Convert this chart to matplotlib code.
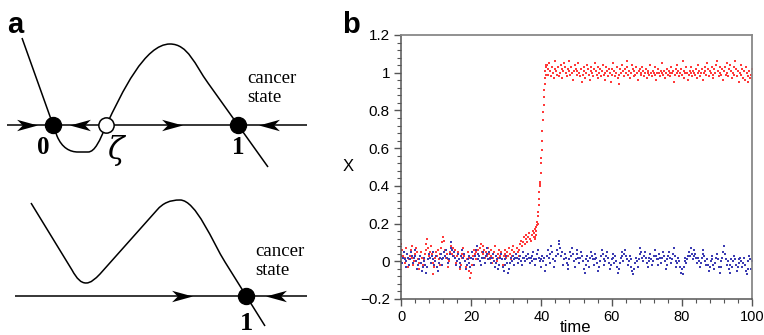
import numpy as np
import matplotlib
matplotlib.use("Agg")
import matplotlib.pyplot as plt
from matplotlib.path import Path
from matplotlib.patches import PathPatch
from matplotlib.ticker import MultipleLocator, FixedLocator, FixedFormatter

# ---------------- data: panel b ----------------
red_pre = [
    0.09, 0.06, 0.03, 0.05, -0.01, 0.02, 0.07, 0.04, -0.03, 0.01,
    0.03, 0.06, 0.08, 0.02, -0.02, 0.00, 0.04, 0.07, 0.05, 0.01,
    -0.04, -0.01, 0.03, 0.05, 0.02, -0.02, 0.01, 0.04, 0.06, 0.09,
    0.12, 0.07, 0.03, 0.05, 0.08, 0.04, -0.01, -0.07, -0.03, 0.02,
    0.05, 0.03, 0.06, 0.01, -0.02, 0.04, 0.07, 0.10, 0.13, 0.11,
    0.06, 0.02, 0.04, 0.01, -0.03, 0.00, 0.05, 0.08, 0.04, 0.07,
    0.03, 0.06, 0.02, -0.01, 0.03, 0.05, 0.01, -0.04, -0.02, 0.02,
    0.04, 0.07, 0.03, 0.00, -0.03, 0.01, 0.05, 0.02, -0.05, -0.09,
    -0.06, -0.02, 0.03, 0.06, 0.04, 0.01, 0.05, 0.08, 0.06, 0.03,
    0.07, 0.09, 0.05, 0.08, 0.04, 0.06, 0.02, 0.05, 0.03, 0.07,
    0.04, 0.01, 0.06, 0.03, -0.01, 0.02, 0.05, 0.08, 0.03, 0.00,
    0.04, 0.02, 0.06, 0.03, 0.05, 0.01, -0.02, 0.03, 0.06, 0.04,
    0.02, 0.05, 0.03, 0.07, 0.04, 0.01, 0.03, 0.06, 0.08, 0.05,
    0.02, 0.04, 0.07, 0.05, 0.03, 0.06, 0.09, 0.11, 0.08, 0.10,
    0.13, 0.09, 0.12, 0.14, 0.10, 0.13, 0.15, 0.12, 0.11, 0.14,
    0.16, 0.13,
]
red_jump = [
    0.15, 0.13, 0.17, 0.12, 0.16, 0.18, 0.14, 0.19, 0.21, 0.20,
    0.26, 0.24, 0.30, 0.33, 0.37, 0.41, 0.40, 0.42, 0.47, 0.52,
    0.55, 0.59, 0.64, 0.69, 0.75, 0.79, 0.83, 0.87, 0.91, 0.94,
    0.97, 1.01, 1.03, 0.99, 1.04,
]
red_post = [
    1.04, 1.02, 0.99, 1.05, 1.01, 0.98, 1.03, 1.00, 0.97, 1.02,
    1.06, 1.01, 0.99, 1.03, 0.98, 1.00, 1.04, 1.02, 0.97, 1.01,
    1.05, 1.03, 1.00, 0.98, 1.02, 1.06, 1.01, 0.99, 1.03, 1.00,
    0.96, 1.01, 1.04, 1.02, 0.99, 1.01, 1.05, 1.00, 0.98, 1.02,
    0.95, 0.99, 1.03, 1.01, 0.97, 1.00, 1.04, 1.02, 0.99, 0.96,
    1.01, 1.03, 1.00, 0.98, 1.02, 1.05, 1.01, 0.99, 1.03, 0.97,
    1.00, 1.02, 0.98, 1.01, 1.04, 0.99, 0.96, 1.00, 1.03, 1.01,
    0.98, 1.02, 1.00, 0.95, 0.99, 1.02, 1.05, 1.01, 0.98, 1.00,
    1.03, 0.97, 0.94, 0.99, 1.02, 1.00, 1.04, 1.01, 0.98, 1.02,
    1.00, 1.06, 1.03, 0.99, 1.01, 0.97, 1.00, 1.04, 1.02, 0.98,
    1.01, 0.99, 1.03, 1.00, 0.96, 1.01, 1.02, 0.99, 1.00, 1.03,
    1.01, 0.98, 1.00, 1.02, 0.97, 1.00, 1.01, 0.99, 1.04, 1.00,
    0.98, 1.01, 1.00, 1.03, 0.99, 0.96, 1.00, 1.02, 1.00, 0.98,
    1.01, 1.05, 1.00, 0.99, 1.01, 0.97, 1.00, 1.02, 0.99, 1.01,
    1.00, 0.98, 1.03, 1.00, 1.01, 0.95, 0.99, 1.02, 1.00, 1.04,
    1.01, 0.98, 1.00, 1.02, 0.99, 1.06, 1.01, 0.97, 1.00, 1.03,
    1.00, 0.96, 0.99, 1.01, 1.00, 1.03, 0.98, 1.01, 1.00, 0.99,
    1.02, 0.97, 1.00, 1.04, 1.01, 0.98, 1.00, 1.02, 0.96, 1.00,
    1.03, 1.01, 0.99, 1.05, 1.02, 0.98, 1.01, 1.00, 1.03, 0.99,
    0.97, 1.02, 1.00, 1.04, 1.06, 1.01, 0.98, 1.03, 1.00, 0.99,
    1.02, 0.96, 1.01, 1.03, 0.99, 1.05, 1.00, 0.98, 1.02, 1.04,
    1.01, 0.97, 1.00, 1.03, 0.99, 1.06, 1.02, 0.98, 1.01, 0.95,
    1.00, 1.04, 0.99, 1.02, 0.97, 1.01, 0.96, 1.03, 1.00, 0.98,
    0.95, 1.01, 0.97, 0.99, 1.02,
]
blue = [
    0.03, -0.01, 0.02, 0.05, 0.01, -0.03, 0.00, 0.04, 0.02, -0.02,
    0.01, 0.05, 0.03, -0.01, 0.02, 0.06, 0.03, 0.00, -0.04, -0.02,
    0.01, 0.03, -0.01, -0.05, -0.03, 0.00, 0.02, -0.02, -0.06, -0.03,
    0.01, 0.04, 0.02, -0.01, 0.03, 0.05, 0.01, -0.02, 0.00, 0.03,
    -0.03, -0.05, -0.01, 0.02, 0.04, 0.01, -0.02, 0.02, 0.05, 0.03,
    0.06, 0.02, -0.01, 0.01, 0.04, 0.07, 0.10, 0.06, 0.03, 0.05,
    0.02, -0.02, 0.00, 0.04, 0.01, -0.03, -0.01, 0.03, 0.06, 0.02,
    0.04, 0.00, -0.04, -0.02, 0.01, 0.03, -0.01, -0.03, 0.02, 0.05,
    0.01, -0.02, 0.03, 0.06, 0.08, 0.04, 0.01, 0.03, 0.00, -0.02,
    0.02, 0.05, 0.02, -0.01, 0.03, 0.07, 0.04, 0.01, 0.05, 0.02,
    -0.01, 0.02, 0.04, 0.00, -0.03, -0.01, 0.03, 0.01, -0.04, -0.02,
    0.02, 0.04, 0.01, -0.03, -0.05, -0.02, 0.01, 0.03, -0.01, -0.06,
    -0.04, -0.01, 0.02, 0.00, 0.03, 0.01, -0.02, 0.02, 0.04, 0.02,
    -0.01, 0.01, 0.03, 0.00, -0.02, 0.02, 0.05, 0.02, 0.00, 0.03,
    0.01, 0.04, 0.02, -0.01, 0.02, 0.00, 0.03, 0.05, 0.01, -0.02,
    0.01, 0.04, 0.06, 0.02, 0.00, -0.03, 0.01, 0.03, 0.00, 0.02,
    -0.05, -0.02, 0.03, 0.06, 0.02, -0.01, 0.04, 0.08, 0.05, 0.01,
    -0.03, 0.00, 0.03, 0.06, 0.04, 0.09, 0.11, 0.07, 0.03, 0.05,
    -0.02, 0.01, 0.04, 0.02, -0.01, -0.04, -0.02, 0.01, 0.05, 0.03,
    0.07, 0.04, 0.00, -0.03, 0.01, 0.04, 0.06, 0.02, -0.01, 0.02,
    0.05, 0.03, 0.00, -0.04, -0.06, -0.02, 0.01, 0.03, 0.00, -0.03,
    0.02, 0.05, 0.03, 0.01, -0.02, 0.01, 0.04, 0.02, -0.01, -0.05,
    -0.03, 0.00, 0.03, 0.06, 0.04, 0.01, -0.02, 0.00, 0.03, 0.05,
    0.02, -0.01, -0.04, -0.02, 0.01, 0.04, 0.02, -0.01, 0.03, 0.00,
    -0.03, -0.06, -0.04, -0.01, 0.02, 0.05, 0.03, 0.00, 0.04, 0.06,
    0.03, 0.01, -0.02, 0.00, 0.03, 0.01, -0.03, -0.05, -0.07, -0.04,
    -0.01, 0.02, 0.00, -0.03, 0.01, 0.04, 0.07, 0.05, 0.02, 0.00,
    0.03, 0.05, 0.02, -0.01, -0.03, 0.00, 0.02, 0.04, 0.01, -0.02,
    0.00, 0.03, 0.06, 0.03, 0.01, -0.02, 0.01, 0.04, 0.02, -0.01,
    0.02, 0.05, 0.03, 0.00, -0.04, -0.02, 0.01, 0.03, 0.05, 0.02,
    -0.01, 0.01, 0.04, 0.07, 0.03, 0.00, -0.03, -0.01, 0.02, 0.00,
    -0.03, -0.06, -0.04, -0.07, -0.03, 0.00, 0.02, -0.01, 0.01, 0.03,
    0.05, 0.03, 0.07, 0.04, 0.01, 0.03, 0.06, 0.04, 0.02, -0.01,
    0.02, 0.00, -0.03, -0.01, 0.02, 0.04, 0.06, 0.03, 0.00, -0.02,
    0.01, -0.02, -0.05, -0.03, 0.00, 0.03, 0.01, -0.02, -0.04, -0.01,
    0.02, 0.04, 0.01, -0.03, -0.06, -0.03, 0.00, 0.02, 0.05, 0.08,
    0.04, 0.01, -0.02, 0.00, -0.04, -0.06, -0.02, 0.01, -0.03, 0.00,
    0.03, 0.01, -0.02, -0.05, -0.03, 0.01, -0.01, 0.02, 0.00, -0.03,
    -0.01, 0.02, -0.02, -0.05, -0.07, -0.04, 0.00, 0.03, 0.01, -0.04,
    0.00,
]
x_ticks = [0, 20, 40, 60, 80, 100]
y_ticks = [-0.2, 0, 0.2, 0.4, 0.6, 0.8, 1, 1.2]
y_tick_labels = ["\u22120.2", "0", "0.2", "0.4", "0.6", "0.8", "1", "1.2"]

# ---------------- schematic (panel a), pixel-like coordinates ----------------
top_curve = [("M", (22, 38)), ("L", (57, 136)),
             ("C", (62, 148), (70, 152), (78, 152)), ("L", (88, 152)),
             ("C", (95, 152), (100, 140), (106, 126)),
             ("C", (122, 92), (145, 44), (170, 44)),
             ("C", (188, 44), (195, 65), (208, 83)), ("L", (268, 167))]
bottom_curve = [("M", (31, 203)), ("L", (72, 270)),
                ("C", (77, 279), (81, 283), (86, 283)),
                ("C", (91, 283), (95, 279), (100, 274)), ("L", (157, 210)),
                ("C", (163, 203), (170, 200), (180, 200)),
                ("C", (196, 200), (213, 243), (225, 262)), ("L", (265, 326))]
top_axis = ((7, 307), 125)
bottom_axis = ((15, 307), 296)
top_stable = [(53, 125), (238, 125)]
top_unstable = [(106, 125)]
bottom_stable = [(246, 296)]
top_arrows_right = [(27, 125), (172, 125)]
top_arrows_left = [(80, 125), (269, 125)]
bottom_arrows_right = [(182, 296)]
bottom_arrows_left = [(276, 296)]


def build_path(segs):
    verts, codes = [], []
    for s in segs:
        kind, pts = s[0], s[1:]
        if kind == "M":
            verts.append(pts[0]); codes.append(Path.MOVETO)
        elif kind == "L":
            verts.append(pts[0]); codes.append(Path.LINETO)
        else:
            verts.extend(pts); codes.extend([Path.CURVE4] * 3)
    return Path(verts, codes)


arrow_right = Path([(1, 0), (-1, 0.55), (-0.45, 0), (-1, -0.55), (1, 0)],
                   [Path.MOVETO, Path.LINETO, Path.LINETO, Path.LINETO, Path.CLOSEPOLY])
arrow_left = Path([(-1, 0), (1, 0.55), (0.45, 0), (1, -0.55), (-1, 0)],
                  [Path.MOVETO, Path.LINETO, Path.LINETO, Path.LINETO, Path.CLOSEPOLY])

fig = plt.figure(figsize=(7.64, 3.35), dpi=100)
W, H = 764, 335

ax_a = fig.add_axes([0, 0, 321 / W, 1])
ax_a.set_xlim(0, 321)
ax_a.set_ylim(335, 0)
ax_a.axis("off")

lw = 1.1
for seg in (top_curve, bottom_curve):
    ax_a.add_patch(PathPatch(build_path(seg), fill=False, lw=lw, color="black",
                             capstyle="butt", joinstyle="round"))
for (x0, x1), y in (top_axis, bottom_axis):
    ax_a.plot([x0, x1], [y, y], color="black", lw=lw, solid_capstyle="butt")

for pts, mk in ((top_arrows_right, arrow_right), (bottom_arrows_right, arrow_right),
                (top_arrows_left, arrow_left), (bottom_arrows_left, arrow_left)):
    xs, ys = zip(*pts)
    ax_a.plot(xs, ys, ls="none", marker=mk, markersize=15, color="black", mew=0)

xs, ys = zip(*(top_stable + bottom_stable))
ax_a.plot(xs, ys, ls="none", marker="o", markersize=11.5, color="black", zorder=5)
xs, ys = zip(*top_unstable)
ax_a.plot(xs, ys, ls="none", marker="o", markersize=11, mfc="white", mec="black",
          mew=1.1, zorder=5)

serif = "Liberation Serif"
ax_a.text(43.5, 147, "0", fontsize=18, fontweight="bold", family=serif,
          ha="center", va="center")
ax_a.text(116, 151, "\u03b6", fontsize=22, family=["DejaVu Serif"], style="italic",
          ha="center", va="center")
ax_a.text(238, 147, "1", fontsize=18, fontweight="bold", family=serif,
          ha="center", va="center")
ax_a.text(246, 323, "1", fontsize=19, fontweight="bold", family=serif,
          ha="center", va="center")
ax_a.text(247, 101.5, "cancer\nstate", fontsize=13.5, family=serif, ha="left",
          va="baseline", linespacing=1.15)
ax_a.text(255, 275, "cancer\nstate", fontsize=13.5, family=serif, ha="left",
          va="baseline", linespacing=1.15)

fig.text(7 / W, 1 - 33 / H, "a", fontsize=21, fontweight="bold",
         family="Liberation Sans", ha="left", va="baseline")
fig.text(342 / W, 1 - 33 / H, "b", fontsize=21, fontweight="bold",
         family="Liberation Sans", ha="left", va="baseline")

# ---------------- panel b ----------------
ax_b = fig.add_axes([401 / W, 1 - 299 / H, (752 - 401) / W, (299 - 35) / H])
t_blue = np.linspace(0, 100, len(blue))
t_red = np.concatenate([
    np.linspace(0, 38, len(red_pre), endpoint=False),
    np.linspace(38, 41.5, len(red_jump), endpoint=False),
    np.linspace(41.5, 100, len(red_post)),
])
red = np.concatenate([red_pre, red_jump, red_post])

ax_b.plot(t_red, red, ls="none", marker="s", markersize=1.8, mew=0, color="#ff3a3a")
ax_b.plot(t_blue, blue, ls="none", marker="s", markersize=1.8, mew=0, color="#3b3bb2")

ax_b.set_xlim(0, 100)
ax_b.set_ylim(-0.2, 1.2)
ax_b.xaxis.set_major_locator(FixedLocator(x_ticks))
ax_b.xaxis.set_minor_locator(MultipleLocator(4))
ax_b.yaxis.set_major_locator(FixedLocator(y_ticks))
ax_b.yaxis.set_major_formatter(FixedFormatter(y_tick_labels))
ax_b.yaxis.set_minor_locator(MultipleLocator(0.04))
ax_b.tick_params(which="major", direction="out", length=5, width=1, color="#555",
                 pad=3)
ax_b.tick_params(which="minor", direction="out", length=3, width=0.8, color="#555")
ax_b.tick_params(axis="x", labelsize=10.5)
ax_b.tick_params(axis="y", labelsize=11)
for lab in ax_b.get_xticklabels() + ax_b.get_yticklabels():
    lab.set_family("Liberation Sans")
for side in ("left", "bottom"):
    ax_b.spines[side].set_color("#555")
    ax_b.spines[side].set_linewidth(1.1)
for side in ("top", "right"):
    ax_b.spines[side].set_color("#888")
    ax_b.spines[side].set_linewidth(1.3)

fig.text(348 / W, 1 - 167 / H, "X", fontsize=12, family="Liberation Sans",
         ha="center", va="center")
fig.text(575 / W, 1 - 327 / H, "time", fontsize=12, family="Liberation Sans",
         ha="center", va="center")

fig.savefig("out.png", dpi=100)
